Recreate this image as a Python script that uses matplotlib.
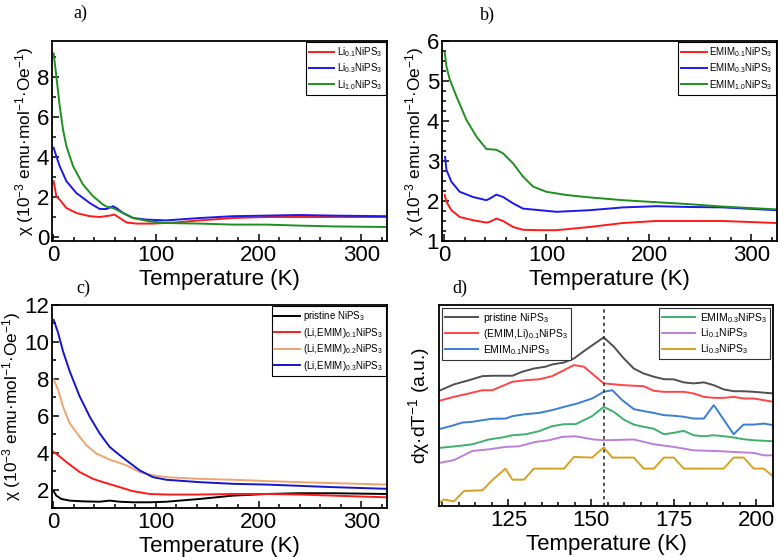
import matplotlib
matplotlib.use("Agg")
import matplotlib.pyplot as plt
from matplotlib.ticker import MultipleLocator, NullLocator

plt.rcParams['font.family'] = ['Liberation Sans', 'DejaVu Sans']
plt.rcParams['mathtext.fontset'] = 'custom'
plt.rcParams['mathtext.rm'] = 'Liberation Sans'
plt.rcParams['mathtext.it'] = 'Liberation Sans:italic'
plt.rcParams['mathtext.bf'] = 'Liberation Sans:bold'

# ---- panel a: Li-intercalated ----
a_li01_T = [0.6, 3.2, 6.5, 13, 22.7, 35.7, 45.4, 55.1, 60, 64.9, 71.4, 81.1, 97.3, 120, 142.7, 175, 207.6, 240, 272, 324]
a_li01_chi = [2.79, 2.04, 1.87, 1.45, 1.2, 1.04, 1.0, 1.07, 1.12, 0.95, 0.73, 0.67, 0.67, 0.73, 0.83, 0.95, 1.0, 1.0, 1.0, 1.0]
a_li03_T = [0.6, 3.2, 6.5, 13, 22.7, 35.7, 45.4, 51.9, 58.4, 61.6, 68.1, 77.8, 90.8, 110, 143, 175, 207.6, 240, 272, 324]
a_li03_chi = [4.46, 4.04, 3.54, 2.79, 2.2, 1.7, 1.4, 1.4, 1.54, 1.45, 1.2, 0.95, 0.87, 0.83, 0.95, 1.04, 1.07, 1.1, 1.07, 1.04]
a_li10_T = [0.6, 3.2, 6.5, 9.7, 13, 19.5, 29.2, 38.9, 48.7, 52, 58.4, 68.1, 77.8, 94, 110, 143, 175, 207.6, 240, 272, 324]
a_li10_chi = [9.18, 8.05, 6.54, 5.38, 4.54, 3.54, 2.62, 2.04, 1.62, 1.52, 1.45, 1.2, 0.95, 0.78, 0.7, 0.67, 0.62, 0.62, 0.57, 0.53, 0.5]

# ---- panel b: EMIM-intercalated ----
b_e01_T = [0.7, 2.3, 7.2, 15.3, 28.3, 41.3, 44.6, 51.1, 57.6, 67.4, 77.1, 93.4, 109.7, 142.2, 174.7, 207.3, 239.8, 272.4, 324.4]
b_e01_chi = [2.15, 1.98, 1.77, 1.6, 1.52, 1.46, 1.48, 1.56, 1.5, 1.35, 1.28, 1.27, 1.27, 1.35, 1.45, 1.5, 1.5, 1.5, 1.45]
b_e03_T = [1.0, 2.3, 7.2, 15.3, 28.3, 41.3, 44.6, 51.1, 57.6, 67.4, 77.1, 93.4, 109.7, 142.2, 174.7, 207.3, 239.8, 272.4, 324.4]
b_e03_chi = [3.1, 2.78, 2.48, 2.23, 2.1, 2.02, 2.06, 2.16, 2.1, 1.94, 1.81, 1.77, 1.73, 1.77, 1.84, 1.87, 1.85, 1.84, 1.77]
b_e10_T = [0.7, 2.3, 5.5, 12, 21.8, 31.6, 41.3, 51.1, 57.6, 67.4, 77.1, 86.9, 99.9, 119.4, 142.2, 174.7, 207.3, 239.8, 272.4, 324.4]
b_e10_chi = [5.71, 5.37, 5.04, 4.62, 4.03, 3.61, 3.3, 3.28, 3.19, 2.94, 2.61, 2.36, 2.23, 2.15, 2.09, 2.02, 1.97, 1.92, 1.86, 1.79]

# ---- panel c: co-intercalated ----
c_pr_T = [0.6, 3.2, 8.1, 16.2, 29.2, 45.4, 55.1, 64.9, 77.8, 94.1, 110.3, 142.7, 175.2, 207.6, 240, 272.5, 324.4]
c_pr_chi = [1.91, 1.67, 1.49, 1.4, 1.36, 1.34, 1.4, 1.34, 1.31, 1.31, 1.34, 1.49, 1.67, 1.76, 1.8, 1.8, 1.76]
c_m01_T = [0.6, 4.9, 13, 25.9, 38.9, 48.7, 64.9, 77.8, 94.1, 110.3, 142.7, 175.2, 207.6, 240, 272.5, 324.4]
c_m01_chi = [4.04, 3.86, 3.49, 2.95, 2.58, 2.4, 2.13, 1.91, 1.76, 1.73, 1.73, 1.76, 1.76, 1.73, 1.67, 1.58]
c_m02_T = [0.6, 4.9, 9.7, 16.2, 25.9, 32.4, 42.2, 55.1, 64.9, 71.4, 84.3, 97.3, 110.3, 142.7, 175.2, 207.6, 240, 272.5, 324.4]
c_m02_chi = [7.96, 7.41, 6.5, 5.59, 4.86, 4.4, 3.95, 3.62, 3.44, 3.31, 2.95, 2.77, 2.67, 2.58, 2.53, 2.46, 2.4, 2.35, 2.27]
c_m03_T = [0.6, 4.9, 9.7, 16.2, 25.9, 35.7, 45.4, 55.1, 64.9, 71.4, 84.3, 97.3, 110.3, 142.7, 175.2, 207.6, 240, 272.5, 324.4]
c_m03_chi = [11.2, 10.5, 9.5, 8.41, 7.05, 5.95, 5.04, 4.31, 3.86, 3.58, 3.04, 2.67, 2.53, 2.4, 2.31, 2.27, 2.2, 2.13, 2.04]

# ---- panel d: derivative curves (a.u.) ----
d_pr_T = [104, 108.5, 113.1, 117.1, 120.1, 126.2, 129.2, 132.7, 136.2, 138.2, 141.8, 144.8, 148.3, 153.8, 156.9, 159.9, 162.9, 165.9, 169, 172, 175, 178, 181, 184.1, 187.1, 190.1, 193.1, 196.1, 199.2, 205.2]
d_pr_v = [57.3, 60.5, 62.6, 64.6, 64.8, 64.8, 66.8, 68.4, 69.3, 70.4, 71.4, 73.4, 77.6, 83.9, 79.2, 73.4, 68.4, 65.9, 64.3, 63.1, 63.0, 61.5, 61.0, 61.5, 60.1, 58.0, 57.1, 57.1, 56.8, 56.0]
d_el_T = [104, 108.5, 113.1, 117.1, 120.1, 126.2, 130.2, 134.2, 138.2, 141.8, 144.8, 147.8, 153.8, 159.9, 165.9, 169, 172, 178, 181, 184.1, 187.1, 190.1, 193.1, 196.1, 199.2, 205.2]
d_el_v = [52.3, 54.3, 56.0, 57.6, 57.6, 61.8, 62.6, 63.0, 64.6, 67.6, 70.1, 69.3, 61.0, 60.1, 59.6, 57.3, 56.8, 56.8, 56.0, 54.3, 53.8, 53.8, 54.3, 53.5, 53.5, 51.8]
d_e01_T = [104, 108.5, 111, 114.1, 117.1, 120.1, 124.1, 126.2, 130.2, 134.2, 138.2, 141.8, 145.8, 150.3, 153.8, 156.4, 159.4, 162.9, 165.9, 169, 172, 175, 178, 181, 184.1, 187.1, 193.1, 196.1, 199.2, 202.2, 205.2]
d_e01_v = [38.2, 40.2, 41.5, 41.9, 42.7, 43.4, 43.5, 44.7, 45.7, 46.3, 47.7, 49.3, 51.0, 53.5, 56.8, 57.6, 52.7, 48.2, 47.2, 46.3, 45.2, 44.9, 44.4, 43.5, 43.5, 50.2, 35.7, 40.5, 40.5, 41.0, 40.2]
d_e03_T = [104, 109, 114.1, 119.1, 123.1, 126.2, 130.2, 134.2, 138.2, 141.8, 145.3, 150.3, 153.8, 156.9, 159.9, 162.9, 165.9, 169, 172, 175, 178, 181, 184.1, 187.1, 190.1, 193.1, 196.1, 199.2, 205.2]
d_e03_v = [28.9, 29.7, 30.7, 33.1, 34.1, 35.2, 35.7, 37.2, 39.7, 40.7, 40.7, 44.7, 49.3, 46.8, 43.0, 40.5, 39.4, 38.4, 35.7, 36.4, 37.4, 35.2, 34.7, 35.2, 34.7, 34.1, 33.2, 32.7, 32.2]
d_li01_T = [104, 108.5, 114.1, 119.1, 124.1, 128.2, 133.2, 137.2, 141.3, 145.3, 150.3, 153.8, 162.9, 169, 175, 181, 187.1, 193.1, 199.2, 202.2, 205.2]
d_li01_v = [21.4, 22.8, 27.4, 28.2, 29.4, 29.7, 31.9, 32.7, 34.4, 34.7, 33.2, 32.7, 33.1, 30.7, 29.4, 27.7, 27.4, 26.9, 26.4, 25.2, 25.2]
d_li03_T = [104, 105.5, 108.5, 111.6, 117.1, 120.1, 124.1, 126.2, 129.7, 132.7, 141.8, 144.8, 150.3, 153.8, 156.4, 162.9, 165.9, 169, 172, 175, 178, 190.1, 193.1, 196.1, 199.2, 202.2, 205.2]
d_li03_v = [1.5, 3.2, 2.3, 7.5, 7.8, 12.8, 18.6, 13.1, 13.1, 18.6, 18.6, 24.4, 24.1, 29.1, 24.1, 24.1, 18.6, 18.6, 24.1, 24.1, 18.6, 18.6, 24.1, 24.1, 18.6, 18.6, 14.5]

chi_label = "χ (10$^{-3}$ emu·mol$^{-1}$·Oe$^{-1}$)"

fig = plt.figure(figsize=(7.8, 5.57), dpi=100)
W, H = 780, 557


def make_axes(l, t, r, b):
    return fig.add_axes([l / W, 1 - b / H, (r - l) / W, (b - t) / H])


def style(ax):
    for s in ax.spines.values():
        s.set_linewidth(1.3)
    ax.tick_params(which='both', direction='in', top=False, right=False,
                   labelsize=16, width=1.1, pad=3)
    ax.tick_params(which='major', length=5)
    ax.tick_params(which='minor', length=3)
    ax.tick_params(axis='y', pad=2)
    ax.set_xlabel("Temperature (K)", fontsize=16, labelpad=2)


def small_legend(ax, loc, size=7):
    lg = ax.legend(loc=loc, fontsize=size, frameon=True, fancybox=False,
                   edgecolor='black', framealpha=1, handlelength=2.6,
                   borderaxespad=0.15, borderpad=0.3, labelspacing=0.25,
                   handletextpad=0.3)
    lg.get_frame().set_linewidth(0.8)


LW = 1.4
RED, BLUE, GREEN = '#ff1a1a', '#1a1aee', '#1f8f1f'
YL = 12.4

# a)
ax = make_axes(52, 41, 387, 241)
ax.plot(a_li01_T, a_li01_chi, color=RED, lw=LW, label="Li$_{0.1}$NiPS$_3$")
ax.plot(a_li03_T, a_li03_chi, color=BLUE, lw=LW, label="Li$_{0.3}$NiPS$_3$")
ax.plot(a_li10_T, a_li10_chi, color=GREEN, lw=LW, label="Li$_{1.0}$NiPS$_3$")
ax.set_xlim(-1, 325)
ax.set_ylim(-0.2, 9.8)
ax.xaxis.set_major_locator(MultipleLocator(100))
ax.xaxis.set_minor_locator(MultipleLocator(20))
ax.yaxis.set_major_locator(MultipleLocator(2))
ax.yaxis.set_minor_locator(MultipleLocator(1))
style(ax)
ax.set_ylabel(chi_label, fontsize=YL)
ax.yaxis.set_label_coords(-0.047, 0.5)
small_legend(ax, 'upper right')

# b)
ax = make_axes(442, 41, 777, 241)
ax.plot(b_e01_T, b_e01_chi, color=RED, lw=LW, label="EMIM$_{0.1}$NiPS$_3$")
ax.plot(b_e03_T, b_e03_chi, color=BLUE, lw=LW, label="EMIM$_{0.3}$NiPS$_3$")
ax.plot(b_e10_T, b_e10_chi, color=GREEN, lw=LW, label="EMIM$_{1.0}$NiPS$_3$")
ax.set_xlim(-2, 325)
ax.set_ylim(1, 6)
ax.xaxis.set_major_locator(MultipleLocator(100))
ax.xaxis.set_minor_locator(MultipleLocator(20))
ax.yaxis.set_major_locator(MultipleLocator(1))
ax.yaxis.set_minor_locator(MultipleLocator(0.25))
style(ax)
ax.set_ylabel(chi_label, fontsize=YL)
ax.yaxis.set_label_coords(-0.047, 0.5)
small_legend(ax, 'upper right')

# c)
ax = make_axes(52, 305, 387, 508)
ax.plot(c_pr_T, c_pr_chi, color='black', lw=LW, label="pristine NiPS$_3$")
ax.plot(c_m01_T, c_m01_chi, color=RED, lw=LW, label="(Li,EMIM)$_{0.1}$NiPS$_3$")
ax.plot(c_m02_T, c_m02_chi, color='#f0a470', lw=LW, label="(Li,EMIM)$_{0.2}$NiPS$_3$")
ax.plot(c_m03_T, c_m03_chi, color='#1515cc', lw=LW, label="(Li,EMIM)$_{0.3}$NiPS$_3$")
ax.set_xlim(-1, 325)
ax.set_ylim(1, 12)
ax.xaxis.set_major_locator(MultipleLocator(100))
ax.xaxis.set_minor_locator(MultipleLocator(20))
ax.yaxis.set_major_locator(MultipleLocator(2))
ax.yaxis.set_minor_locator(MultipleLocator(1))
style(ax)
ax.set_yticks([2, 4, 6, 8, 10, 12])
ax.set_ylabel(chi_label, fontsize=YL)
ax.yaxis.set_label_coords(-0.088, 0.5)
small_legend(ax, 'upper right')

# d)
ax = make_axes(439, 305, 773, 506)
l1, = ax.plot(d_pr_T, d_pr_v, color='#505050', lw=LW, label="pristine NiPS$_3$")
l2, = ax.plot(d_el_T, d_el_v, color='#ff4545', lw=LW, label="(EMIM,Li)$_{0.1}$NiPS$_3$")
l3, = ax.plot(d_e01_T, d_e01_v, color='#3a7fd5', lw=LW, label="EMIM$_{0.1}$NiPS$_3$")
l4, = ax.plot(d_e03_T, d_e03_v, color='#3fb06a', lw=LW, label="EMIM$_{0.3}$NiPS$_3$")
l5, = ax.plot(d_li01_T, d_li01_v, color='#bb80d8', lw=LW, label="Li$_{0.1}$NiPS$_3$")
l6, = ax.plot(d_li03_T, d_li03_v, color='#d8a020', lw=LW, label="Li$_{0.3}$NiPS$_3$")
ax.axvline(154, color='#333333', lw=1.2, ls=(0, (2, 2)))
ax.set_xlim(104, 205)
ax.set_ylim(0, 100)
ax.xaxis.set_major_locator(MultipleLocator(25))
ax.xaxis.set_minor_locator(MultipleLocator(5))
ax.yaxis.set_major_locator(NullLocator())
style(ax)
ax.set_ylabel("dχ·dT$^{-1}$ (a.u.)", fontsize=YL + 1.5)
ax.yaxis.set_label_coords(-0.02, 0.5)
kw = dict(fontsize=7.5, frameon=True, fancybox=False, edgecolor='#333333',
          framealpha=1, handlelength=3.2, borderaxespad=0.25, borderpad=0.3,
          labelspacing=0.2, handletextpad=0.5)
lg1 = ax.legend(handles=[l1, l2, l3], loc='upper left', **kw)
lg1.get_frame().set_linewidth(0.8)
ax.add_artist(lg1)
lg2 = ax.legend(handles=[l4, l5, l6], loc='upper right', **kw)
lg2.get_frame().set_linewidth(0.8)

# panel letters
for txt, x, y in [("a)", 80, 13), ("b)", 487, 15), ("c)", 83, 288), ("d)", 460, 288)]:
    fig.text(x / W, 1 - y / H, txt, fontsize=13, family='Liberation Serif',
             ha='center', va='center')

fig.savefig("out.png", dpi=100)
